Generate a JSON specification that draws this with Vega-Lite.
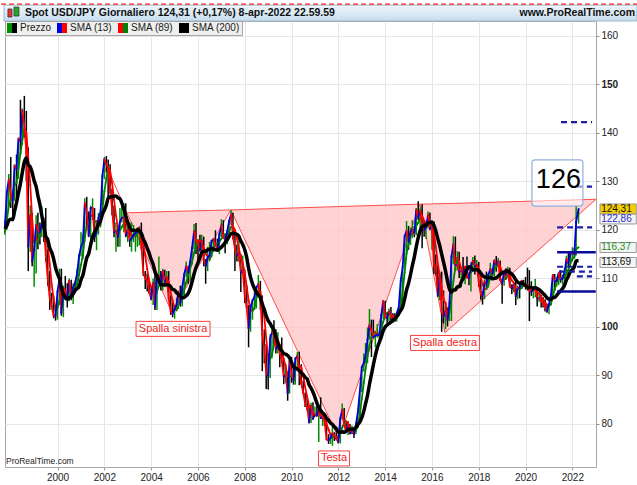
{
"$schema": "https://vega.github.io/schema/vega-lite/v6.json",
"autosize": {"type": "none"},
"padding": {"left": 5, "top": 21, "right": 41, "bottom": 18},
"width": 591, "height": 446,
"background": "#ffffff",
"config": {"font": "Liberation Sans", "view": {"stroke": "#a8a8a8"}},
"datasets": {
"hs": [
{"dt":"2001-12-20","z":134.6},
{"dt":"2002-12-20","z":123.5,"n":123.5},
{"dt":"2004-11-20","z":103.0,"n":123.8},
{"dt":"2007-05-29","z":124.1,"n":124.1},
{"dt":"2012-01-10","z":77.0,"n":124.8},
{"dt":"2015-06-28","z":125.3,"n":125.3},
{"dt":"2016-07-22","z":98.8,"n":125.4},
{"dt":"2023-01-05","z":126.3,"n":126.3}
],
"tgd": [
{"v":142.2,"a":"2021-07-08","b":"2022-11-05"},
{"v":128.9,"a":"2022-03-12","b":"2022-11-05"},
{"v":120.5,"a":"2021-05-08","b":"2022-11-05"},
{"v":112.4,"a":"2021-05-08","b":"2022-11-05"},
{"v":111.4,"a":"2021-06-05","b":"2022-11-05"},
{"v":110.4,"a":"2022-03-12","b":"2022-11-05"}
],
"tgs": [
{"v":115.4,"a":"2021-05-08","b":"2023-01-01"},
{"v":107.3,"a":"2021-05-08","b":"2023-01-01"}
],
"box": [{"a":"2020-04-10","b":"2022-06-15","lo":124.9,"hi":134.4}],
"num": [{"dt":"2021-05-28","v":130.2,"t":"126"}],
"lbl": [
{"dt":"2004-12-08","v":99.6,"t":"Spalla sinistra"},
{"dt":"2016-07-22","v":96.7,"t":"Spalla destra"},
{"dt":"2011-10-26","v":72.9,"t":"Testa"}
],
"tags": [
{"s":"SMA (200)","v":113.69,"t":"113,69"},
{"s":"SMA (89)","v":116.37,"t":"116,37"},
{"s":"SMA (13)","v":122.86,"t":"122,86"},
{"s":"Prezzo","v":124.31,"t":"124,31"}
],
"icon": [
{"a":"1997-11-18","b":"1998-01-20","lo":163.85,"hi":165.5,"k":"down"},
{"a":"1998-02-20","b":"1998-05-08","lo":164.06,"hi":165.9,"k":"up"}
]
},
"data": {"format": {"parse": {"d": "date"}}, "values": [
{"d":"1997-10","h":122,"l":119,"c":120.5,"m":119.7,"s":120.2},
{"d":"1997-11","h":128,"l":120,"c":127.8,"m":122,"s":120.9},
{"d":"1997-12","h":131.5,"l":125,"c":130.4,"m":124.9,"s":121.9},
{"d":"1998-01","h":135,"l":124.5,"c":127,"m":126.4,"s":122.2},
{"d":"1998-02","h":128,"l":123,"c":126,"m":127.8,"s":122.1},
{"d":"1998-03","h":133.5,"l":126,"c":133.2,"m":129.2,"s":123.8},
{"d":"1998-04","h":135.5,"l":126.5,"c":132.5,"m":129.7,"s":125.6},
{"d":"1998-05","h":139,"l":130.5,"c":138.8,"m":132.6,"s":127.6},
{"d":"1998-06","h":146.8,"l":135.5,"c":138.3,"m":135.7,"s":129.5},
{"d":"1998-07","h":145,"l":137.5,"c":144.6,"m":138.6,"s":131.9},
{"d":"1998-08","h":147.6,"l":139,"c":141.5,"m":140.8,"s":134},
{"d":"1998-09","h":144.5,"l":130,"c":136,"m":140.1,"s":134.8},
{"d":"1998-10","h":137,"l":111.5,"c":116.5,"m":134.7,"s":133.4},
{"d":"1998-11","h":125,"l":115.5,"c":123,"m":129.3,"s":133},
{"d":"1998-12","h":123.5,"l":112.5,"c":113.5,"m":122.3,"s":131.8},
{"d":"1999-01","h":117,"l":108.3,"c":116,"m":117.3,"s":130.1},
{"d":"1999-02","h":123,"l":111,"c":121,"m":118.4,"s":128.9},
{"d":"1999-03","h":123.5,"l":116,"c":120,"m":117.6,"s":127},
{"d":"1999-04","h":121.5,"l":117,"c":119.5,"m":119.1,"s":125.2},
{"d":"1999-05","h":124.8,"l":118.5,"c":121.5,"m":120.5,"s":122.9},
{"d":"1999-06","h":122.5,"l":117.5,"c":121,"m":120.5,"s":120.8},
{"d":"1999-07","h":124.5,"l":113.5,"c":114.8,"m":119.2,"s":118.7},
{"d":"1999-08","h":116,"l":108.5,"c":110,"m":116.8,"s":118},
{"d":"1999-09","h":111.5,"l":103.5,"c":106,"m":113,"s":116.3},
{"d":"1999-10","h":107,"l":104,"c":104.3,"m":108.8,"s":115.4},
{"d":"1999-11","h":106.5,"l":101.8,"c":102.3,"m":105.7,"s":114},
{"d":"1999-12","h":104.5,"l":101.3,"c":102.2,"m":103.7,"s":112.2},
{"d":"2000-01","h":107.5,"l":101.5,"c":107.3,"m":104,"s":110.9},
{"d":"2000-02","h":112,"l":104.5,"c":110,"m":105.5,"s":109.9},
{"d":"2000-03","h":112,"l":102.3,"c":102.8,"m":105.6,"s":108.1},
{"d":"2000-04","h":108.5,"l":102,"c":108,"m":107,"s":106.8},
{"d":"2000-05","h":110.5,"l":105.5,"c":107.6,"m":107.1,"s":106.1},
{"d":"2000-06","h":109,"l":104,"c":106,"m":106.1,"s":105.7},
{"d":"2000-07","h":110,"l":105.3,"c":109.5,"m":107.8,"s":106},
{"d":"2000-08","h":109.7,"l":105.5,"c":106.7,"m":107.5,"s":106.2},
{"d":"2000-09","h":109,"l":104.7,"c":108.2,"m":107.6,"s":106.8},
{"d":"2000-10","h":109.5,"l":107,"c":109,"m":108.4,"s":107.5},
{"d":"2000-11","h":112,"l":108,"c":111,"m":108.7,"s":107.9},
{"d":"2000-12","h":115,"l":110.5,"c":114.5,"m":110.7,"s":108.3},
{"d":"2001-01","h":119.5,"l":114.5,"c":116.5,"m":112.8,"s":109.7},
{"d":"2001-02","h":119,"l":114,"c":117.5,"m":114.9,"s":110.7},
{"d":"2001-03","h":126.5,"l":117.5,"c":125.5,"m":118.5,"s":112.4},
{"d":"2001-04","h":126.8,"l":121,"c":123.5,"m":120.8,"s":114.2},
{"d":"2001-05","h":123.8,"l":118.5,"c":118.8,"m":121.3,"s":115.1},
{"d":"2001-06","h":125,"l":118,"c":124.5,"m":123.1,"s":116.9},
{"d":"2001-07","h":126.5,"l":122,"c":124.5,"m":122.8,"s":118.5},
{"d":"2001-08","h":124.5,"l":117.5,"c":118.5,"m":121.6,"s":119.5},
{"d":"2001-09","h":122,"l":115.8,"c":119.5,"m":121.8,"s":120.3},
{"d":"2001-10","h":123.5,"l":119,"c":122.5,"m":121.3,"s":121.1},
{"d":"2001-11","h":124,"l":120.5,"c":123.5,"m":121,"s":121.8},
{"d":"2001-12","h":131.5,"l":122.5,"c":131,"m":124.1,"s":123.2},
{"d":"2002-01","h":135,"l":130.5,"c":134.5,"m":127.9,"s":124.1},
{"d":"2002-02","h":135.2,"l":131.8,"c":133.5,"m":130.6,"s":125.1},
{"d":"2002-03","h":134.5,"l":126,"c":132.7,"m":132.9,"s":126.5},
{"d":"2002-04","h":133.5,"l":127.5,"c":128.2,"m":132.2,"s":126.8},
{"d":"2002-05","h":128.5,"l":123,"c":124.3,"m":129.7,"s":126.8},
{"d":"2002-06","h":125,"l":118.5,"c":119.5,"m":126.2,"s":126.9},
{"d":"2002-07","h":121.5,"l":115.5,"c":119.8,"m":123,"s":127},
{"d":"2002-08","h":121,"l":116.5,"c":118.5,"m":120.5,"s":126.6},
{"d":"2002-09","h":124.5,"l":116.5,"c":121.7,"m":119.9,"s":126.4},
{"d":"2002-10","h":125.5,"l":121.5,"c":122.5,"m":120.6,"s":125.5},
{"d":"2002-11","h":125.5,"l":119.5,"c":122.5,"m":121.3,"s":124.3},
{"d":"2002-12","h":125.5,"l":118.5,"c":118.8,"m":121.4,"s":122.9},
{"d":"2003-01","h":121,"l":117.5,"c":120,"m":121,"s":121.6},
{"d":"2003-02","h":121.5,"l":116.5,"c":117.8,"m":119.8,"s":120.5},
{"d":"2003-03","h":121.5,"l":115.5,"c":118.2,"m":118.7,"s":119.9},
{"d":"2003-04","h":121,"l":117.5,"c":119,"m":118.8,"s":119.9},
{"d":"2003-05","h":119.5,"l":115.5,"c":119.3,"m":118.6,"s":119.8},
{"d":"2003-06","h":120.5,"l":116.5,"c":119.7,"m":119.1,"s":120},
{"d":"2003-07","h":120.5,"l":116.8,"c":120.5,"m":119.6,"s":119.8},
{"d":"2003-08","h":121.5,"l":116,"c":116.8,"m":119.1,"s":119.3},
{"d":"2003-09","h":117.5,"l":110.5,"c":111.3,"m":117.1,"s":118.1},
{"d":"2003-10","h":111.5,"l":107.8,"c":110,"m":114.7,"s":117.3},
{"d":"2003-11","h":111,"l":107.3,"c":109.6,"m":111.9,"s":116.2},
{"d":"2003-12","h":110,"l":106.8,"c":107.2,"m":109.5,"s":115.2},
{"d":"2004-01","h":108,"l":105.5,"c":105.8,"m":108.2,"s":113.9},
{"d":"2004-02","h":110,"l":104.5,"c":109,"m":107.9,"s":112.9},
{"d":"2004-03","h":112,"l":103.5,"c":104.2,"m":106.6,"s":111.4},
{"d":"2004-04","h":110.5,"l":103.5,"c":110.3,"m":107.3,"s":110.5},
{"d":"2004-05","h":114.5,"l":109.5,"c":110.5,"m":108.5,"s":109.5},
{"d":"2004-06","h":111.5,"l":107.5,"c":109,"m":108.5,"s":108.7},
{"d":"2004-07","h":112,"l":107.5,"c":111.5,"m":110.3,"s":108.7},
{"d":"2004-08","h":111.8,"l":108.5,"c":109.2,"m":110.1,"s":108.6},
{"d":"2004-09","h":111.5,"l":108.8,"c":110.2,"m":110,"s":108.7},
{"d":"2004-10","h":111.5,"l":105.5,"c":105.8,"m":109.2,"s":108.6},
{"d":"2004-11","h":106.5,"l":102.5,"c":103.2,"m":107.1,"s":108.3},
{"d":"2004-12","h":105,"l":102,"c":102.7,"m":105.5,"s":107.7},
{"d":"2005-01","h":104.5,"l":101.7,"c":103.6,"m":103.8,"s":107.6},
{"d":"2005-02","h":106,"l":103.2,"c":104.6,"m":103.5,"s":107},
{"d":"2005-03","h":107.5,"l":103.7,"c":107.2,"m":104.5,"s":106.7},
{"d":"2005-04","h":108.5,"l":104.2,"c":104.9,"m":105.1,"s":106.3},
{"d":"2005-05","h":108.5,"l":104.2,"c":108.2,"m":106.2,"s":106},
{"d":"2005-06","h":111,"l":106.5,"c":110.9,"m":107.8,"s":106.1},
{"d":"2005-07","h":113.5,"l":110.3,"c":112.5,"m":109.1,"s":106.4},
{"d":"2005-08","h":112.5,"l":108.9,"c":111.2,"m":110.7,"s":106.9},
{"d":"2005-09","h":113.5,"l":109.5,"c":113.5,"m":112,"s":107.9},
{"d":"2005-10","h":116.5,"l":112.8,"c":116.3,"m":113.4,"s":109.3},
{"d":"2005-11","h":121.2,"l":116,"c":119.7,"m":115.2,"s":110.9},
{"d":"2005-12","h":121.4,"l":115,"c":117.8,"m":116.8,"s":112.2},
{"d":"2006-01","h":118,"l":113.5,"c":117.2,"m":117.8,"s":113.2},
{"d":"2006-02","h":119,"l":115.5,"c":115.9,"m":117.7,"s":114.3},
{"d":"2006-03","h":119,"l":115.5,"c":117.8,"m":117.2,"s":115.3},
{"d":"2006-04","h":118.6,"l":112.5,"c":113.8,"m":116.2,"s":115.6},
{"d":"2006-05","h":114,"l":108.9,"c":112.5,"m":115,"s":115.6},
{"d":"2006-06","h":116.5,"l":111.5,"c":114.4,"m":114.6,"s":115.9},
{"d":"2006-07","h":117.5,"l":113.5,"c":114.7,"m":113.9,"s":116},
{"d":"2006-08","h":117.8,"l":114.3,"c":117.7,"m":114.8,"s":116.2},
{"d":"2006-09","h":118.3,"l":115.5,"c":118.1,"m":116.2,"s":116},
{"d":"2006-10","h":119.9,"l":116.8,"c":117,"m":116.9,"s":115.9},
{"d":"2006-11","h":118.2,"l":115.5,"c":115.8,"m":117.2,"s":115.8},
{"d":"2006-12","h":119.5,"l":115,"c":119,"m":117.5,"s":116.1},
{"d":"2007-01","h":122.2,"l":118.5,"c":120.9,"m":118.2,"s":116.4},
{"d":"2007-02","h":122,"l":118.2,"c":118.6,"m":118.6,"s":116.9},
{"d":"2007-03","h":119,"l":115.2,"c":117.9,"m":119.1,"s":117.4},
{"d":"2007-04","h":120,"l":117,"c":119.5,"m":119.2,"s":117.9},
{"d":"2007-05","h":122,"l":118.5,"c":121.8,"m":119.5,"s":118.6},
{"d":"2007-06","h":124.1,"l":121,"c":123.2,"m":120.6,"s":119.2},
{"d":"2007-07","h":123.5,"l":118,"c":118.8,"m":120.8,"s":119.3},
{"d":"2007-08","h":119.8,"l":111.5,"c":116,"m":120,"s":119.2},
{"d":"2007-09","h":117,"l":113.5,"c":114.8,"m":118.2,"s":119.1},
{"d":"2007-10","h":117.8,"l":113.5,"c":115.2,"m":116.2,"s":118.7},
{"d":"2007-11","h":115,"l":107.2,"c":111.2,"m":114.3,"s":117.7},
{"d":"2007-12","h":114.7,"l":110.8,"c":111.7,"m":113.2,"s":117},
{"d":"2008-01","h":111.8,"l":104.9,"c":106.4,"m":111.1,"s":115.9},
{"d":"2008-02","h":108.5,"l":103.8,"c":104,"m":108.3,"s":114.3},
{"d":"2008-03","h":104.5,"l":95.8,"c":99.7,"m":105.5,"s":112.1},
{"d":"2008-04","h":104.5,"l":99,"c":104,"m":103.5,"s":110.2},
{"d":"2008-05","h":105.5,"l":101.5,"c":105.5,"m":103.3,"s":108.9},
{"d":"2008-06","h":108.5,"l":103.5,"c":106.2,"m":103.9,"s":107.9},
{"d":"2008-07","h":108.5,"l":103.8,"c":108.1,"m":106,"s":107.2},
{"d":"2008-08","h":110.7,"l":107.2,"c":108.8,"m":107.2,"s":106.6},
{"d":"2008-09","h":109.5,"l":103.5,"c":106,"m":107.3,"s":106},
{"d":"2008-10","h":106.5,"l":90.9,"c":98.4,"m":105.3,"s":104.7},
{"d":"2008-11","h":99.5,"l":92.5,"c":95.6,"m":102.2,"s":103.6},
{"d":"2008-12","h":96.5,"l":87.2,"c":90.6,"m":97.7,"s":102.3},
{"d":"2009-01","h":94.6,"l":87.1,"c":89.9,"m":93.6,"s":101.3},
{"d":"2009-02","h":98.5,"l":89.5,"c":97.6,"m":93.4,"s":100.7},
{"d":"2009-03","h":99.7,"l":93.5,"c":98.9,"m":94.3,"s":100},
{"d":"2009-04","h":101.4,"l":96.5,"c":98.6,"m":96.3,"s":99.3},
{"d":"2009-05","h":99.5,"l":94.5,"c":95.4,"m":97.6,"s":98},
{"d":"2009-06","h":98.9,"l":94.5,"c":96.3,"m":97.3,"s":96.7},
{"d":"2009-07","h":96.5,"l":91.7,"c":94.7,"m":96.3,"s":95.6},
{"d":"2009-08","h":97.8,"l":92.5,"c":93,"m":94.9,"s":95.1},
{"d":"2009-09","h":93.5,"l":88.2,"c":89.7,"m":93.4,"s":94.5},
{"d":"2009-10","h":92.3,"l":88.5,"c":90.1,"m":91.9,"s":94.4},
{"d":"2009-11","h":90.8,"l":84.8,"c":86.3,"m":89.8,"s":94.1},
{"d":"2009-12","h":93.2,"l":86.3,"c":93,"m":89.8,"s":93.6},
{"d":"2010-01","h":93.8,"l":88.5,"c":90.3,"m":89.9,"s":92.7},
{"d":"2010-02","h":91.9,"l":88.1,"c":88.9,"m":89.6,"s":91.8},
{"d":"2010-03","h":93.8,"l":88.1,"c":93.4,"m":91.4,"s":91.6},
{"d":"2010-04","h":94.8,"l":92,"c":94,"m":91.7,"s":91.3},
{"d":"2010-05","h":94.9,"l":88,"c":91.2,"m":91.9,"s":91},
{"d":"2010-06","h":92.3,"l":88.2,"c":88.4,"m":91.8,"s":90.5},
{"d":"2010-07","h":88.9,"l":86.3,"c":86.5,"m":90,"s":90.2},
{"d":"2010-08","h":86.5,"l":83.5,"c":84.2,"m":87.6,"s":89.6},
{"d":"2010-09","h":86,"l":82.8,"c":83.5,"m":85.7,"s":89.3},
{"d":"2010-10","h":83.9,"l":80.1,"c":80.4,"m":83.7,"s":88.1},
{"d":"2010-11","h":84.4,"l":80.2,"c":83.7,"m":83,"s":87.4},
{"d":"2010-12","h":84.5,"l":80.9,"c":81.1,"m":82.2,"s":86.6},
{"d":"2011-01","h":83.6,"l":81.5,"c":82,"m":81.8,"s":85.5},
{"d":"2011-02","h":84,"l":81.5,"c":81.8,"m":82.2,"s":84.3},
{"d":"2011-03","h":83.3,"l":76.3,"c":83.1,"m":82,"s":83.5},
{"d":"2011-04","h":85.5,"l":81.2,"c":81.2,"m":82,"s":82.8},
{"d":"2011-05","h":82.2,"l":79.6,"c":81.5,"m":81.9,"s":82.3},
{"d":"2011-06","h":81.5,"l":79.6,"c":80.6,"m":81.6,"s":81.9},
{"d":"2011-07","h":81.5,"l":76.7,"c":76.8,"m":80,"s":81.2},
{"d":"2011-08","h":77.9,"l":75.9,"c":76.6,"m":78.9,"s":80.8},
{"d":"2011-09","h":77.8,"l":75.9,"c":77.1,"m":77.8,"s":80.2},
{"d":"2011-10","h":79.5,"l":75.5,"c":78.1,"m":77.2,"s":79.9},
{"d":"2011-11","h":78.3,"l":76.5,"c":77.6,"m":77.4,"s":79.4},
{"d":"2011-12","h":78.2,"l":76.8,"c":76.9,"m":77.4,"s":79},
{"d":"2012-01","h":77.2,"l":76,"c":76.3,"m":77.2,"s":78.3},
{"d":"2012-02","h":81.2,"l":76,"c":81.2,"m":78,"s":78.3},
{"d":"2012-03","h":84.2,"l":80.9,"c":82.9,"m":79.3,"s":78.4},
{"d":"2012-04","h":83.3,"l":79.8,"c":79.9,"m":80.1,"s":78.3},
{"d":"2012-05","h":80.5,"l":78.2,"c":78.3,"m":80.6,"s":78.5},
{"d":"2012-06","h":80.6,"l":77.7,"c":79.8,"m":80.2,"s":78.8},
{"d":"2012-07","h":80,"l":77.9,"c":78.1,"m":79,"s":78.9},
{"d":"2012-08","h":79.7,"l":77.9,"c":78.4,"m":78.7,"s":78.9},
{"d":"2012-09","h":78.9,"l":77.1,"c":77.9,"m":78.6,"s":79},
{"d":"2012-10","h":80.3,"l":77.9,"c":79.8,"m":78.6,"s":79.3},
{"d":"2012-11","h":82.8,"l":79.1,"c":82.5,"m":79.7,"s":79.9},
{"d":"2012-12","h":86.6,"l":81.7,"c":86.7,"m":81.7,"s":80.4},
{"d":"2013-01","h":91.3,"l":86.6,"c":91.7,"m":85.2,"s":81.3},
{"d":"2013-02","h":94.5,"l":90.8,"c":92.6,"m":88.4,"s":82.6},
{"d":"2013-03","h":96.7,"l":92.5,"c":94.2,"m":91.3,"s":84.2},
{"d":"2013-04","h":99.9,"l":92.6,"c":97.4,"m":94,"s":85.9},
{"d":"2013-05","h":103.7,"l":97.4,"c":100.4,"m":96.2,"s":88.2},
{"d":"2013-06","h":101.5,"l":93.8,"c":99.2,"m":97.8,"s":90.2},
{"d":"2013-07","h":101.5,"l":97.6,"c":97.9,"m":98.7,"s":92.2},
{"d":"2013-08","h":99.2,"l":95.8,"c":98.2,"m":98.9,"s":94.1},
{"d":"2013-09","h":100.6,"l":97.8,"c":98.3,"m":98.4,"s":95.7},
{"d":"2013-10","h":99,"l":96.6,"c":98.4,"m":98.2,"s":96.8},
{"d":"2013-11","h":102.6,"l":97.6,"c":102.4,"m":99.3,"s":97.9},
{"d":"2013-12","h":105.4,"l":101.6,"c":105.3,"m":101.1,"s":99.2},
{"d":"2014-01","h":105.4,"l":101.8,"c":102.1,"m":102.1,"s":100},
{"d":"2014-02","h":102.8,"l":100.8,"c":101.8,"m":102.9,"s":100.4},
{"d":"2014-03","h":103.8,"l":101.2,"c":103.2,"m":103.1,"s":100.7},
{"d":"2014-04","h":104.1,"l":101.4,"c":102.2,"m":102.3,"s":101},
{"d":"2014-05","h":102.8,"l":100.8,"c":101.8,"m":102.3,"s":101.4},
{"d":"2014-06","h":102.8,"l":101.1,"c":101.3,"m":102.1,"s":101.7},
{"d":"2014-07","h":103.1,"l":101.1,"c":102.8,"m":102,"s":102.1},
{"d":"2014-08","h":104.5,"l":102.3,"c":104.1,"m":102.5,"s":102.7},
{"d":"2014-09","h":110.1,"l":103.8,"c":109.6,"m":104.5,"s":103.4},
{"d":"2014-10","h":112.5,"l":105.2,"c":112.3,"m":107.2,"s":104.1},
{"d":"2014-11","h":118.9,"l":112.4,"c":118.7,"m":111.2,"s":105.8},
{"d":"2014-12","h":121.8,"l":115.6,"c":119.8,"m":115.1,"s":107.6},
{"d":"2015-01","h":120.8,"l":115.9,"c":117.5,"m":117.1,"s":109},
{"d":"2015-02","h":120.5,"l":116.9,"c":119.6,"m":118.9,"s":110.8},
{"d":"2015-03","h":122,"l":118.3,"c":120.1,"m":119.3,"s":112.6},
{"d":"2015-04","h":120.8,"l":118.5,"c":119.4,"m":119.2,"s":114.4},
{"d":"2015-05","h":124.5,"l":118.9,"c":124.1,"m":120.8,"s":116.5},
{"d":"2015-06","h":125.9,"l":122,"c":122.5,"m":121.5,"s":118.4},
{"d":"2015-07","h":124.6,"l":120.4,"c":123.9,"m":122.5,"s":119.8},
{"d":"2015-08","h":125.3,"l":116.2,"c":121.2,"m":122.9,"s":120.7},
{"d":"2015-09","h":121.7,"l":118.6,"c":119.9,"m":121.9,"s":120.8},
{"d":"2015-10","h":121.5,"l":118.1,"c":120.6,"m":121.4,"s":120.9},
{"d":"2015-11","h":123.8,"l":120.3,"c":123.1,"m":121.2,"s":121.4},
{"d":"2015-12","h":123.6,"l":119.9,"c":120.2,"m":121,"s":121.5},
{"d":"2016-01","h":121.7,"l":115.9,"c":121,"m":121.2,"s":121.6},
{"d":"2016-02","h":121.7,"l":110.9,"c":112.7,"m":119.3,"s":120.9},
{"d":"2016-03","h":114.9,"l":110.6,"c":112.6,"m":116.6,"s":119.8},
{"d":"2016-04","h":112.7,"l":106.2,"c":106.4,"m":113.2,"s":118.2},
{"d":"2016-05","h":111.4,"l":105.5,"c":110.7,"m":110.6,"s":116.8},
{"d":"2016-06","h":111.4,"l":99,"c":103.2,"m":108.2,"s":115},
{"d":"2016-07","h":107.5,"l":100.7,"c":102.1,"m":105.6,"s":113.3},
{"d":"2016-08","h":104.3,"l":99.5,"c":103.4,"m":104.9,"s":111.5},
{"d":"2016-09","h":104,"l":100.1,"c":101.4,"m":102.5,"s":109.4},
{"d":"2016-10","h":105.5,"l":101.2,"c":104.8,"m":102.9,"s":107.8},
{"d":"2016-11","h":114.8,"l":101.2,"c":114.5,"m":106,"s":107.2},
{"d":"2016-12","h":118.7,"l":112.9,"c":117,"m":109.4,"s":107.6},
{"d":"2017-01","h":118.6,"l":111.6,"c":112.8,"m":112.3,"s":107.6},
{"d":"2017-02","h":115.6,"l":111.6,"c":112.8,"m":114.3,"s":108.3},
{"d":"2017-03","h":115.5,"l":110.1,"c":111.4,"m":113.5,"s":108.3},
{"d":"2017-04","h":112.2,"l":108.1,"c":111.5,"m":112.1,"s":109.2},
{"d":"2017-05","h":114.4,"l":110.2,"c":110.8,"m":111.6,"s":110},
{"d":"2017-06","h":112.5,"l":108.8,"c":112.4,"m":111.5,"s":110.9},
{"d":"2017-07","h":114.5,"l":110,"c":110.3,"m":111.3,"s":111.8},
{"d":"2017-08","h":111,"l":108.6,"c":110,"m":110.9,"s":112.4},
{"d":"2017-09","h":113.3,"l":107.3,"c":112.5,"m":111.3,"s":112.2},
{"d":"2017-10","h":114.4,"l":111.6,"c":113.6,"m":111.6,"s":111.8},
{"d":"2017-11","h":114.7,"l":110.8,"c":112.5,"m":112.2,"s":111.8},
{"d":"2017-12","h":113.8,"l":111.9,"c":112.7,"m":112.8,"s":111.8},
{"d":"2018-01","h":113.4,"l":108.3,"c":109.2,"m":112,"s":111.6},
{"d":"2018-02","h":110.5,"l":105.6,"c":106.7,"m":110.3,"s":111.1},
{"d":"2018-03","h":107.3,"l":104.6,"c":106.3,"m":108.7,"s":110.6},
{"d":"2018-04","h":109.8,"l":105.7,"c":109.3,"m":107.9,"s":110.3},
{"d":"2018-05","h":111.4,"l":108.1,"c":108.8,"m":107.8,"s":110.2},
{"d":"2018-06","h":111.1,"l":108.1,"c":110.8,"m":108.8,"s":110.2},
{"d":"2018-07","h":113.2,"l":110.3,"c":111.9,"m":110.2,"s":110.2},
{"d":"2018-08","h":112.1,"l":109.8,"c":111,"m":110.6,"s":109.9},
{"d":"2018-09","h":113.7,"l":110.4,"c":113.7,"m":111.9,"s":110},
{"d":"2018-10","h":114.6,"l":111.4,"c":112.9,"m":112.4,"s":110.1},
{"d":"2018-11","h":114.2,"l":112.3,"c":113.5,"m":112.8,"s":110.5},
{"d":"2018-12","h":113.7,"l":109.5,"c":109.7,"m":112.5,"s":110.8},
{"d":"2019-01","h":110,"l":104.8,"c":108.9,"m":111.3,"s":111.1},
{"d":"2019-02","h":111.5,"l":108.5,"c":111.4,"m":110.9,"s":111.3},
{"d":"2019-03","h":112.1,"l":109.7,"c":110.9,"m":110.2,"s":111.5},
{"d":"2019-04","h":112.4,"l":110.8,"c":111.4,"m":110.7,"s":111.5},
{"d":"2019-05","h":112.2,"l":108.3,"c":108.3,"m":110.5,"s":111.2},
{"d":"2019-06","h":108.8,"l":106.8,"c":107.9,"m":109.6,"s":110.9},
{"d":"2019-07","h":109.3,"l":107.2,"c":108.8,"m":109.1,"s":110.4},
{"d":"2019-08","h":109.3,"l":104.5,"c":106.3,"m":107.8,"s":109.7},
{"d":"2019-09","h":108.5,"l":105.7,"c":108.1,"m":107.8,"s":109.2},
{"d":"2019-10","h":109.3,"l":105.9,"c":108,"m":107.8,"s":109},
{"d":"2019-11","h":109.7,"l":107.9,"c":109.5,"m":108,"s":109.1},
{"d":"2019-12","h":109.7,"l":108.4,"c":108.7,"m":108.6,"s":108.8},
{"d":"2020-01","h":110.3,"l":107.7,"c":108.4,"m":108.7,"s":108.5},
{"d":"2020-02","h":112.2,"l":107.5,"c":108.1,"m":108.7,"s":108.2},
{"d":"2020-03","h":111.7,"l":101.2,"c":107.5,"m":108.2,"s":108.1},
{"d":"2020-04","h":109.4,"l":106.4,"c":107.2,"m":107.8,"s":108.1},
{"d":"2020-05","h":108.1,"l":105.9,"c":107.8,"m":107.7,"s":108},
{"d":"2020-06","h":109.9,"l":106.1,"c":107.9,"m":107.6,"s":108.1},
{"d":"2020-07","h":108.2,"l":104.2,"c":105.9,"m":107.2,"s":107.9},
{"d":"2020-08","h":107.1,"l":105.2,"c":105.9,"m":106.9,"s":107.7},
{"d":"2020-09","h":106.6,"l":104,"c":105.5,"m":106.3,"s":107.3},
{"d":"2020-10","h":106.1,"l":104,"c":104.7,"m":105.5,"s":106.9},
{"d":"2020-11","h":105.7,"l":103.2,"c":104.3,"m":105.1,"s":106.5},
{"d":"2020-12","h":104.8,"l":102.9,"c":103.3,"m":104.5,"s":106},
{"d":"2021-01","h":104.9,"l":102.6,"c":104.7,"m":104.3,"s":105.7},
{"d":"2021-02","h":106.7,"l":104.4,"c":106.6,"m":104.7,"s":105.7},
{"d":"2021-03","h":110.9,"l":106.4,"c":110.7,"m":106.3,"s":106},
{"d":"2021-04","h":110.9,"l":107.5,"c":109.3,"m":107.8,"s":106.1},
{"d":"2021-05","h":110.2,"l":108.3,"c":109.6,"m":109.1,"s":106.5},
{"d":"2021-06","h":111.1,"l":108.6,"c":111.1,"m":110.2,"s":107},
{"d":"2021-07","h":111.7,"l":109.1,"c":109.7,"m":109.9,"s":107.4},
{"d":"2021-08","h":110.8,"l":108.7,"c":110,"m":110.1,"s":107.9},
{"d":"2021-09","h":112.1,"l":109.1,"c":111.3,"m":110.3,"s":108.6},
{"d":"2021-10","h":114.7,"l":110.8,"c":114,"m":111,"s":109.7},
{"d":"2021-11","h":115.5,"l":112.5,"c":113.1,"m":111.8,"s":110.5},
{"d":"2021-12","h":115.2,"l":112.6,"c":115.1,"m":113.1,"s":111.4},
{"d":"2022-01","h":116.4,"l":113.5,"c":115.1,"m":114,"s":111.8},
{"d":"2022-02","h":116.3,"l":114.4,"c":115,"m":114.3,"s":112.4},
{"d":"2022-03","h":125.1,"l":114.7,"c":121.7,"m":116,"s":113.6},
{"d":"2022-04-08","h":124.3,"l":121.3,"c":124.3,"m":116.4,"s":113.7}
]},
"layer": [
{"data": {"name": "hs"}, "transform": [{"filter": "datum.n != null"}],
 "mark": {"type": "area", "color": "#ffc4c4", "opacity": 0.75},
 "encoding": {
  "x": {"field": "dt", "type": "temporal",
        "scale": {"domain": [{"year": 1997, "month": 10, "date": 3}, {"year": 2023, "month": 1, "date": 5}]},
        "axis": {"title": null, "values": [{"year": 2000}, {"year": 2002}, {"year": 2004}, {"year": 2006}, {"year": 2008}, {"year": 2010}, {"year": 2012}, {"year": 2014}, {"year": 2016}, {"year": 2018}, {"year": 2020}, {"year": 2022}],
                 "format": "%Y", "grid": true, "gridColor": "#e6e6e6", "tickColor": "#999999", "tickSize": 3, "domain": false,
                 "labelFontSize": 10, "labelColor": "#222222", "labelPadding": 2, "labelFlush": false, "labelOverlap": false}},
  "y": {"field": "z", "type": "quantitative",
        "scale": {"domain": [71.14, 163.03], "zero": false, "nice": false},
        "axis": {"title": null, "orient": "right", "values": [80, 90, 100, 110, 120, 130, 140, 150, 160], "grid": true, "gridColor": "#e6e6e6",
                 "domain": false, "tickColor": "#888888", "tickSize": 3, "labelFontSize": 10, "labelColor": "#222222", "labelPadding": 2, "labelFlush": false,
                 "labelFontWeight": {"condition": {"test": "datum.value == 100 || datum.value == 150", "value": "bold"}, "value": "normal"}}},
  "y2": {"field": "n"}
 }},
{"data": {"name": "hs"}, "mark": {"type": "line", "color": "#ff4d4d", "strokeWidth": 1},
 "encoding": {"x": {"field": "dt", "type": "temporal"}, "y": {"field": "z", "type": "quantitative"}}},
{"data": {"name": "hs"}, "transform": [{"filter": "datum.n != null"}], "mark": {"type": "line", "color": "#ff4d4d", "strokeWidth": 1},
 "encoding": {"x": {"field": "dt", "type": "temporal"}, "y": {"field": "n", "type": "quantitative"}}},
{"transform": [{"window": [{"op": "lag", "field": "c", "as": "pc"}]}],
 "mark": {"type": "rule", "strokeWidth": 1.5},
 "encoding": {"x": {"field": "d", "type": "temporal"}, "y": {"field": "l", "type": "quantitative"}, "y2": {"field": "h"},
  "color": {"condition": {"test": "datum.c >= datum.pc", "value": "#008a00"}, "value": "#000000"}}},
{"transform": [{"window": [{"op": "lag", "field": "d", "as": "pd"}, {"op": "lag", "field": "m", "as": "pm"}]}, {"filter": "datum.pm != null"}],
 "mark": {"type": "rule", "strokeWidth": 1.8, "strokeCap": "round"},
 "encoding": {"x": {"field": "d", "type": "temporal"}, "x2": {"field": "pd"}, "y": {"field": "m", "type": "quantitative"}, "y2": {"field": "pm"},
  "color": {"condition": {"test": "datum.m >= datum.pm", "value": "#008000"}, "value": "#ff0000"}}},
{"transform": [{"window": [{"op": "lag", "field": "d", "as": "pd"}, {"op": "lag", "field": "c", "as": "pc"}]}, {"filter": "datum.pc != null"}],
 "mark": {"type": "rule", "strokeWidth": 1.8, "strokeCap": "round"},
 "encoding": {"x": {"field": "d", "type": "temporal"}, "x2": {"field": "pd"}, "y": {"field": "c", "type": "quantitative"}, "y2": {"field": "pc"},
  "color": {"condition": {"test": "datum.c >= datum.pc", "value": "#0000dd"}, "value": "#ff0000"}}},
{"mark": {"type": "line", "strokeWidth": 3.5, "interpolate": "monotone"},
 "encoding": {"x": {"field": "d", "type": "temporal"}, "y": {"field": "s", "type": "quantitative"},
  "color": {"datum": "SMA (200)",
   "scale": {"domain": ["Prezzo", "SMA (13)", "SMA (89)", "SMA (200)"], "range": ["#008a00", "#0000dd", "#ff0000", "#000000"]},
   "legend": {"orient": "top-left", "direction": "horizontal", "title": null, "offset": 0, "padding": 2,
    "fillColor": "#efefef", "strokeColor": "#a5a5a5", "symbolType": "square", "symbolSize": 100, "symbolStrokeWidth": 0,
    "labelFontSize": 10, "labelColor": "#1a1a1a", "labelOffset": 3, "columnPadding": 5,
    "encode": {"symbols": {"update": {"opacity": {"value": 1}, "fill": [
     {"test": "datum.value === 'Prezzo'", "value": {"gradient": "linear", "stops": [{"offset": 0, "color": "#009000"}, {"offset": 0.5, "color": "#009000"}, {"offset": 0.5, "color": "#000000"}, {"offset": 1, "color": "#000000"}]}},
     {"test": "datum.value === 'SMA (13)'", "value": {"gradient": "linear", "stops": [{"offset": 0, "color": "#0000dd"}, {"offset": 0.5, "color": "#0000dd"}, {"offset": 0.5, "color": "#ff0000"}, {"offset": 1, "color": "#ff0000"}]}},
     {"test": "datum.value === 'SMA (89)'", "value": {"gradient": "linear", "stops": [{"offset": 0, "color": "#ff0000"}, {"offset": 0.5, "color": "#ff0000"}, {"offset": 0.5, "color": "#008000"}, {"offset": 1, "color": "#008000"}]}},
     {"value": "#000000"}
    ]}}}}}}},
{"data": {"name": "tgd"}, "mark": {"type": "rule", "color": "#1c1ca8", "strokeWidth": 2.2, "strokeDash": [6, 4]},
 "encoding": {"x": {"field": "a", "type": "temporal"}, "x2": {"field": "b"}, "y": {"field": "v", "type": "quantitative"}}},
{"data": {"name": "tgs"}, "mark": {"type": "rule", "color": "#0a0a9a", "strokeWidth": 2.5},
 "encoding": {"x": {"field": "a", "type": "temporal"}, "x2": {"field": "b"}, "y": {"field": "v", "type": "quantitative"}}},
{"data": {"name": "box"}, "mark": {"type": "rect", "fill": "#ffffff", "fillOpacity": 0.55, "stroke": "#8fb0e0", "strokeWidth": 1.2, "cornerRadius": 3},
 "encoding": {"x": {"field": "a", "type": "temporal"}, "x2": {"field": "b"}, "y": {"field": "lo", "type": "quantitative"}, "y2": {"field": "hi"}}},
{"data": {"name": "num"}, "mark": {"type": "text", "fontSize": 27, "color": "#000000", "baseline": "middle"},
 "encoding": {"x": {"field": "dt", "type": "temporal"}, "y": {"field": "v", "type": "quantitative"}, "text": {"field": "t"}}},
{"data": {"name": "lbl"}, "mark": {"type": "rect", "fill": "#ffffff", "stroke": "#ff3b3b", "strokeWidth": 1, "height": 15,
  "width": {"expr": "datum.t == 'Testa' ? 31 : (datum.t == 'Spalla destra' ? 69 : 74)"}},
 "encoding": {"x": {"field": "dt", "type": "temporal"}, "y": {"field": "v", "type": "quantitative"}}},
{"data": {"name": "lbl"}, "mark": {"type": "text", "fontSize": 11, "color": "#ee2222", "baseline": "middle"},
 "encoding": {"x": {"field": "dt", "type": "temporal"}, "y": {"field": "v", "type": "quantitative"}, "text": {"field": "t"}}},
{"data": {"name": "tags"}, "mark": {"type": "rect", "height": 10, "stroke": "#9a9a9a", "strokeWidth": 1,
  "yOffset": {"expr": "datum.s == 'SMA (13)' ? 3 : (datum.s == 'SMA (200)' ? 2 : (datum.s == 'Prezzo' ? 0 : 0))"}},
 "encoding": {"x": {"datum": {"year": 2023, "month": 3, "date": 8}, "type": "temporal"}, "x2": {"datum": {"year": 2024, "month": 9, "date": 25}},
  "y": {"field": "v", "type": "quantitative"},
  "fill": {"condition": {"test": "datum.s == 'Prezzo'", "value": "#f5cc00"}, "value": "#f4f4f4"}}},
{"data": {"name": "tags"}, "mark": {"type": "text", "align": "left", "baseline": "middle", "fontSize": 10,
  "yOffset": {"expr": "datum.s == 'SMA (13)' ? 3 : (datum.s == 'SMA (200)' ? 2 : 0)"}},
 "encoding": {"x": {"datum": {"year": 2023, "month": 3, "date": 26}, "type": "temporal"}, "y": {"field": "v", "type": "quantitative"}, "text": {"field": "t"},
  "color": {"condition": [{"test": "datum.s == 'SMA (13)'", "value": "#2b2bd0"}, {"test": "datum.s == 'SMA (89)'", "value": "#1f8f1f"}], "value": "#111111"}}},
{"data": {"values": [{"t": "ProRealTime.com"}]}, "mark": {"type": "text", "align": "left", "baseline": "middle", "fontSize": 8.5, "dx": 1, "color": "#222222"},
 "encoding": {"x": {"datum": {"year": 1997, "month": 10, "date": 3}, "type": "temporal"}, "y": {"datum": 72.4, "type": "quantitative"}, "text": {"field": "t"}}},
{"data": {"values": [{"t": "header"}]}, "mark": {"type": "rect", "fill": {"gradient": "linear", "x1": 0, "y1": 0, "x2": 0, "y2": 1, "stops": [{"offset": 0, "color": "#eef6fc"}, {"offset": 1, "color": "#c6deef"}]}, "stroke": "#9fb8cc", "strokeWidth": 1},
 "encoding": {"x": {"datum": {"year": 1997, "month": 9, "date": 17}, "type": "temporal"}, "x2": {"datum": {"year": 2024, "month": 10, "date": 6}},
  "y": {"datum": 163.03, "type": "quantitative"}, "y2": {"datum": 166.3}}},
{"data": {"values": [{"t": "header"}]}, "mark": {"type": "rule", "color": "#ee2222", "strokeWidth": 1.2, "strokeDash": [5, 3]},
 "encoding": {"x": {"datum": {"year": 1997, "month": 8, "date": 1}, "type": "temporal"}, "x2": {"datum": {"year": 2024, "month": 11, "date": 1}},
  "y": {"datum": 166.5, "type": "quantitative"}}},
{"data": {"name": "icon"}, "mark": {"type": "rect", "stroke": "#333333", "strokeWidth": 0.8},
 "encoding": {"x": {"field": "a", "type": "temporal"}, "x2": {"field": "b"}, "y": {"field": "lo", "type": "quantitative"}, "y2": {"field": "hi"},
  "fill": {"condition": {"test": "datum.k == 'up'", "value": "#22aa22"}, "value": "#ee3333"}}},
{"data": {"values": [{"t": "Spot USD/JPY Giornaliero 124,31 (+0,17%) 8-apr-2022 22.59.59"}]}, "mark": {"type": "text", "align": "left", "baseline": "middle", "fontWeight": "bold", "fontSize": 10.5, "color": "#111111"},
 "encoding": {"x": {"datum": {"year": 1998, "month": 8, "date": 10}, "type": "temporal"}, "y": {"datum": 164.75, "type": "quantitative"}, "text": {"field": "t"}}},
{"data": {"values": [{"t": "www.ProRealTime.com"}]}, "mark": {"type": "text", "align": "right", "baseline": "middle", "fontWeight": "bold", "fontSize": 10.5, "color": "#111111"},
 "encoding": {"x": {"datum": {"year": 2024, "month": 9, "date": 5}, "type": "temporal"}, "y": {"datum": 164.75, "type": "quantitative"}, "text": {"field": "t"}}}
]
}
